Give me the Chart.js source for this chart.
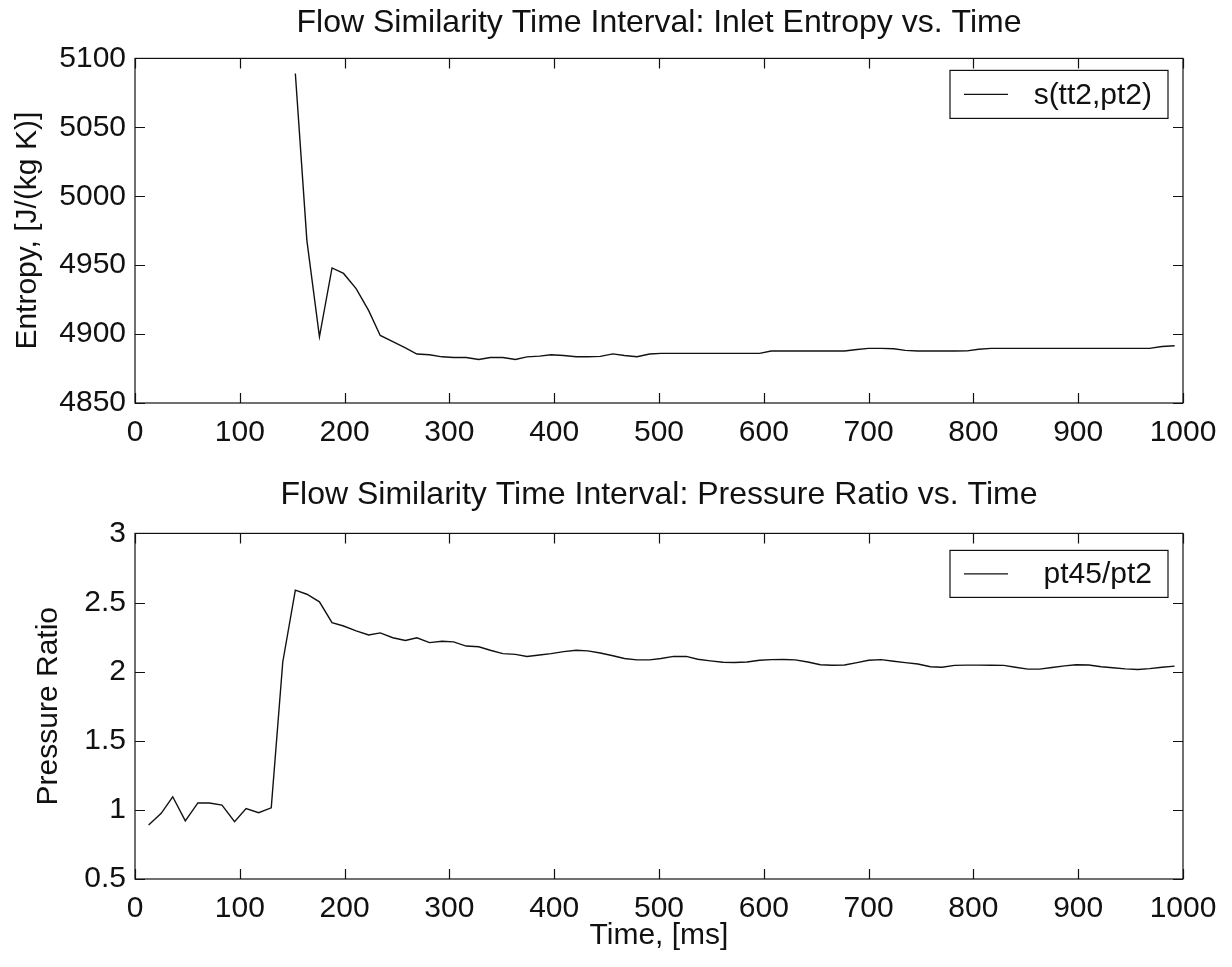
<!DOCTYPE html>
<html>
<head>
<meta charset="utf-8">
<script src="https://cdn.jsdelivr.net/npm/chart.js@4.4.0/dist/chart.umd.min.js"></script>
<style>
  html, body { margin: 0; padding: 0; background: #fff; }
  #wrap { position: relative; width: 1232px; height: 967px; }
  canvas { position: absolute; left: 0; }
  #entropyChart { top: 0; }
  #ratioChart { top: 470px; }
</style>
</head>
<body>
<div id="wrap">
  <canvas id="entropyChart" width="1232" height="470"></canvas>
  <canvas id="ratioChart" width="1232" height="497"></canvas>
</div>
<script>
// sample times, ms
const timeMs = [
  13, 25, 36, 48, 60, 71, 83, 95, 106, 118,
  130, 141, 153, 164, 176, 188, 199, 211, 223, 234,
  246, 258, 269, 281, 293, 304, 316, 328, 339, 351,
  363, 374, 386, 397, 409, 421, 432, 444, 456, 467,
  479, 491, 502, 514, 526, 537, 549, 561, 572, 584,
  596, 607, 619, 630, 642, 654, 665, 677, 689, 700,
  712, 724, 735, 747, 759, 770, 782, 794, 805, 817,
  829, 840, 852, 863, 875, 887, 898, 910, 922, 933,
  945, 957, 968, 980, 992
];

// s(tt2,pt2), J/(kg K) -- no value before the flow starts
const inletEntropy = [
  null, null, null, null, null, null, null, null, null, null,
  null, null, 5089, 4968, 4898, 4948, 4944, 4933, 4917, 4899,
  4894.5, 4890, 4885.5, 4885, 4883.5, 4883, 4883, 4881.6, 4883, 4883,
  4881.6, 4883.5, 4884, 4885, 4884.5, 4883.6, 4883.6, 4883.8, 4885.6, 4884.5,
  4883.6, 4885.5, 4886, 4886, 4886, 4886, 4886, 4886, 4886, 4886,
  4886, 4887.7, 4887.7, 4887.7, 4887.7, 4887.7, 4887.7, 4887.7, 4888.8, 4889.6,
  4889.6, 4889.4, 4888.2, 4887.7, 4887.7, 4887.7, 4887.7, 4887.8, 4889, 4889.6,
  4889.6, 4889.6, 4889.6, 4889.6, 4889.6, 4889.6, 4889.6, 4889.6, 4889.6, 4889.6,
  4889.6, 4889.6, 4889.6, 4891, 4891.5
];

// pt45/pt2
const pressureRatio = [
  0.89, 0.975, 1.095, 0.92, 1.05, 1.05, 1.035, 0.915, 1.01, 0.98,
  1.015, 2.07, 2.59, 2.56, 2.505, 2.355, 2.33, 2.295, 2.265, 2.28,
  2.245, 2.225, 2.245, 2.21, 2.22, 2.215, 2.185, 2.18, 2.155, 2.13,
  2.125, 2.11, 2.12, 2.13, 2.145, 2.155, 2.15, 2.135, 2.115, 2.095,
  2.085, 2.085, 2.095, 2.11, 2.11, 2.09, 2.078, 2.068, 2.066, 2.07,
  2.082, 2.087, 2.088, 2.085, 2.07, 2.05, 2.046, 2.048, 2.065, 2.082,
  2.087, 2.075, 2.065, 2.055, 2.035, 2.032, 2.045, 2.047, 2.047, 2.046,
  2.045, 2.032, 2.018, 2.018, 2.03, 2.042, 2.05, 2.048, 2.035, 2.028,
  2.02, 2.015, 2.022, 2.032, 2.04
];

const timeTicks = [0, 100, 200, 300, 400, 500, 600, 700, 800, 900, 1000];
const entropyTicks = [4850, 4900, 4950, 5000, 5050, 5100];
const ratioTicks = [0.5, 1, 1.5, 2, 2.5, 3];

const FONT = "'Liberation Sans', Arial, Helvetica, sans-serif";
const INK = '#111';
const TICK_LEN = 10;

// box around the axes with inward ticks on all four sides, plus a boxed legend
const axesBox = {
  id: 'axesBox',
  afterDatasetsDraw(chart, args, opts) {
    const { ctx, chartArea: a, scales: { x, y } } = chart;
    ctx.save();
    ctx.strokeStyle = INK;
    ctx.lineWidth = 1.2;
    ctx.strokeRect(a.left, a.top, a.right - a.left, a.bottom - a.top);
    ctx.beginPath();
    x.ticks.forEach(t => {
      const px = Math.round(x.getPixelForValue(t.value)) + 0.5;
      ctx.moveTo(px, a.bottom); ctx.lineTo(px, a.bottom - TICK_LEN);
      ctx.moveTo(px, a.top); ctx.lineTo(px, a.top + TICK_LEN);
    });
    y.ticks.forEach(t => {
      const py = Math.round(y.getPixelForValue(t.value)) + 0.5;
      ctx.moveTo(a.left, py); ctx.lineTo(a.left + TICK_LEN, py);
      ctx.moveTo(a.right, py); ctx.lineTo(a.right - TICK_LEN, py);
    });
    ctx.stroke();

    // legend
    const ds = chart.data.datasets[0];
    const right = a.right - opts.right;
    const left = right - opts.width;
    const top = a.top + opts.top;
    const mid = top + opts.height / 2;
    ctx.fillStyle = '#fff';
    ctx.fillRect(left, top, opts.width, opts.height);
    ctx.strokeRect(left, top, opts.width, opts.height);
    ctx.beginPath();
    ctx.lineWidth = ds.borderWidth;
    ctx.moveTo(left + 14, mid);
    ctx.lineTo(left + 58, mid);
    ctx.stroke();
    ctx.fillStyle = INK;
    ctx.font = '30px ' + FONT;
    ctx.textBaseline = 'middle';
    ctx.textAlign = 'right';
    ctx.fillText(ds.label, right - 16, mid + 1);
    ctx.restore();
  }
};

function makePlot(canvasId, cfg) {
  const points = timeMs.map((t, i) => ({ x: t, y: cfg.values[i] }));
  return new Chart(document.getElementById(canvasId), {
    type: 'line',
    data: {
      datasets: [{
        label: cfg.label,
        data: points,
        borderColor: INK,
        borderWidth: 1.4,
        pointRadius: 0,
        tension: 0,
        spanGaps: false,
        fill: false
      }]
    },
    options: {
      responsive: false,
      animation: false,
      devicePixelRatio: 1,
      layout: { padding: { left: 0, right: 49, top: 0, bottom: 0 } },
      plugins: {
        legend: { display: false },
        tooltip: { enabled: false },
        title: {
          display: true,
          fullSize: false,
          text: cfg.title,
          color: INK,
          font: { family: FONT, size: 32, weight: 'normal' },
          padding: { top: cfg.titleTop, bottom: cfg.titleBottom }
        },
        axesBox: cfg.legend
      },
      scales: {
        x: {
          type: 'linear',
          min: 0,
          max: 1000,
          afterBuildTicks: s => { s.ticks = timeTicks.map(v => ({ value: v })); },
          afterFit: s => { s.height = cfg.xHeight; },
          grid: { display: false, drawTicks: false },
          border: { display: false },
          ticks: {
            color: INK,
            padding: 12,
            maxRotation: 0,
            font: { family: FONT, size: 30 },
            callback: v => String(v)
          },
          title: {
            display: !!cfg.xTitle,
            text: cfg.xTitle || '',
            color: INK,
            font: { family: FONT, size: 30 },
            padding: { top: 0, bottom: 13 }
          }
        },
        y: {
          min: cfg.yMin,
          max: cfg.yMax,
          afterBuildTicks: s => { s.ticks = cfg.yTicks.map(v => ({ value: v })); },
          afterFit: s => { s.width = 135; },
          grid: { display: false, drawTicks: false },
          border: { display: false },
          ticks: {
            color: INK,
            padding: 9,
            font: { family: FONT, size: 30 },
            callback: v => String(v)
          },
          title: {
            display: true,
            text: cfg.yTitle,
            color: INK,
            font: { family: FONT, size: 30 },
            padding: { top: cfg.yTitlePad, bottom: 0 }
          }
        }
      }
    },
    plugins: [axesBox]
  });
}

makePlot('entropyChart', {
  title: 'Flow Similarity Time Interval: Inlet Entropy vs. Time',
  label: 's(tt2,pt2)',
  values: inletEntropy,
  yMin: 4850, yMax: 5100, yTicks: entropyTicks,
  yTitle: 'Entropy, [J/(kg K)]', yTitlePad: 10,
  titleTop: 4, titleBottom: 16,
  xHeight: 67,
  legend: { right: 15, top: 12, width: 218, height: 48 }
});

makePlot('ratioChart', {
  title: 'Flow Similarity Time Interval: Pressure Ratio vs. Time',
  label: 'pt45/pt2',
  values: pressureRatio,
  yMin: 0.5, yMax: 3, yTicks: ratioTicks,
  yTitle: 'Pressure Ratio', yTitlePad: 31,
  xTitle: 'Time, [ms]',
  titleTop: 6, titleBottom: 19,
  xHeight: 88,
  legend: { right: 15, top: 17, width: 218, height: 47 }
});
</script>
</body>
</html>
